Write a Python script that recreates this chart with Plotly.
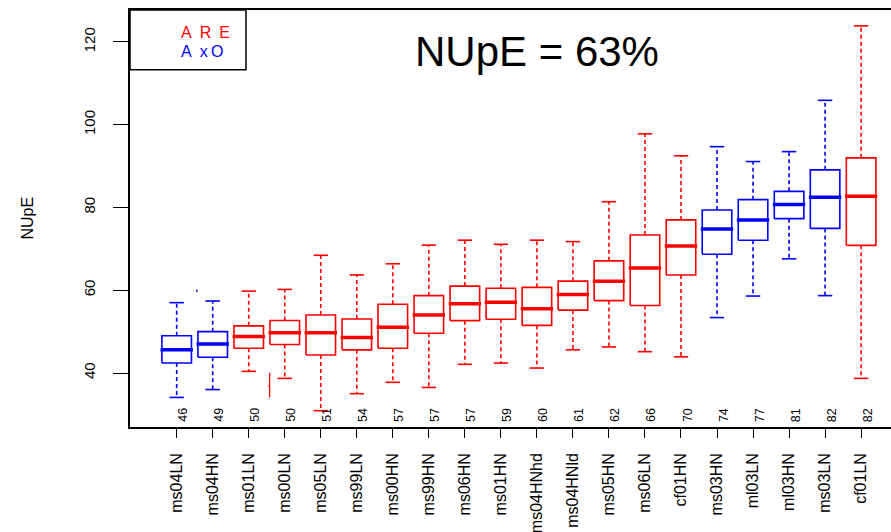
import plotly.graph_objects as go

categories = ["ms04LN", "ms04HN", "ms01LN", "ms00LN", "ms05LN", "ms99LN", "ms00HN",
              "ms99HN", "ms06HN", "ms01HN", "ms04HNhd", "ms04HNld", "ms05HN", "ms06LN",
              "cf01HN", "ms03HN", "ml03LN", "ml03HN", "ms03LN", "cf01LN"]
lower_whisker = [34.1, 36.0, 40.4, 38.7, 30.9, 35.0, 37.75, 36.5, 42.1, 42.4, 41.2, 45.6,
                 46.3, 45.15, 43.9, 53.4, 58.6, 67.6, 58.7, 38.7]
q1 = [42.4, 43.8, 46.0, 46.9, 44.35, 45.6, 46.0, 49.6, 52.65, 53.0, 51.5, 55.2,
      57.5, 56.3, 63.7, 68.7, 72.1, 77.3, 74.95, 70.85]
median = [45.6, 47.0, 48.8, 49.7, 49.7, 48.6, 51.05, 54.0, 56.75, 57.1, 55.5, 59.0,
          62.2, 65.4, 70.7, 74.8, 77.0, 80.7, 82.45, 82.7]
q3 = [49.0, 50.0, 51.4, 52.7, 54.0, 53.05, 56.6, 58.7, 61.0, 60.5, 60.7, 62.2,
      67.1, 73.35, 77.0, 79.4, 81.9, 83.9, 89.1, 92.0]
upper_whisker = [57.0, 57.4, 59.8, 60.2, 68.45, 63.7, 66.4, 70.9, 72.1, 71.1, 72.1, 71.75,
                 81.4, 97.8, 92.5, 94.7, 91.1, 93.5, 105.9, 123.9]
mean_labels = ["46", "49", "50", "50", "51", "54", "57", "57", "57", "59", "60", "61",
               "62", "66", "70", "74", "77", "81", "82", "82"]
group = ["AxO", "AxO", "ARE", "ARE", "ARE", "ARE", "ARE", "ARE", "ARE", "ARE", "ARE", "ARE",
         "ARE", "ARE", "ARE", "AxO", "AxO", "AxO", "AxO", "ARE"]

# small stray marks visible in the original figure
stray_x = [[0.56, 0.56], [2.58, 2.58], [2.54, 2.58]]
stray_y = [[59.6, 60.2], [40.07, 34.1], [36.85, 36.85]]
stray_group = ["AxO", "ARE", "ARE"]

y_ticks = [40, 60, 80, 100, 120]
title_text = "NUpE = 63%"
y_label = "NUpE"
legend_lines = ["A\u2002R\u2002E", "A\u2002x\u2009O"]

colors = {"ARE": "#FF0000", "AxO": "#0000FF"}
FONT = "Liberation Sans, Arial, Helvetica, sans-serif"
BOX_HW = 0.41
CAP_HW = 0.2
MED_HW = 0.45

fig = go.Figure()

for g, col in colors.items():
    bx, by, mx, my, wx, wy, cx, cy = [], [], [], [], [], [], [], []
    for i, grp in enumerate(group):
        if grp != g:
            continue
        bx += [i - BOX_HW, i + BOX_HW, i + BOX_HW, i - BOX_HW, i - BOX_HW, None]
        by += [q1[i], q1[i], q3[i], q3[i], q1[i], None]
        mx += [i - MED_HW, i + MED_HW, None]
        my += [median[i], median[i], None]
        wx += [i, i, None, i, i, None]
        wy += [q3[i], upper_whisker[i], None, q1[i], lower_whisker[i], None]
        cx += [i - CAP_HW, i + CAP_HW, None, i - CAP_HW, i + CAP_HW, None]
        cy += [upper_whisker[i], upper_whisker[i], None, lower_whisker[i], lower_whisker[i], None]
    fig.add_trace(go.Scatter(x=wx, y=wy, mode="lines", line=dict(color=col, width=1.6, dash="4px,3px"),
                             hoverinfo="skip", showlegend=False))
    fig.add_trace(go.Scatter(x=cx, y=cy, mode="lines", line=dict(color=col, width=1.6),
                             hoverinfo="skip", showlegend=False))
    fig.add_trace(go.Scatter(x=bx, y=by, mode="lines", line=dict(color=col, width=1.6),
                             hoverinfo="skip", showlegend=False))
    fig.add_trace(go.Scatter(x=mx, y=my, mode="lines", line=dict(color=col, width=3.5),
                             hoverinfo="skip", showlegend=False))
    sx, sy = [], []
    for k, sg in enumerate(stray_group):
        if sg == g:
            sx += stray_x[k] + [None]
            sy += stray_y[k] + [None]
    if sx:
        fig.add_trace(go.Scatter(x=sx, y=sy, mode="lines", line=dict(color=col, width=1.3),
                                 hoverinfo="skip", showlegend=False))

# mean labels
for i, lab in enumerate(mean_labels):
    fig.add_annotation(x=i + 0.175, y=29.9, xref="x", yref="y", text=lab, textangle=-90,
                       showarrow=False, font=dict(family=FONT, size=12.5, color="black"))

# title
fig.add_annotation(x=(537 - 130) / 761, y=(427 - 51) / 417, xref="paper", yref="paper",
                   text=title_text, showarrow=False, xanchor="center", yanchor="middle",
                   font=dict(family=FONT, size=42, color="black"))

# y label
fig.add_annotation(x=(27 - 130) / 761, y=0.5, xref="paper", yref="paper", text=y_label,
                   textangle=-90, showarrow=False, xanchor="center", yanchor="middle",
                   font=dict(family=FONT, size=16, color="black"))

# legend box
fig.add_shape(type="rect", xref="paper", yref="paper", x0=0, x1=(246 - 130) / 761,
              y0=(427 - 69.7) / 417, y1=1, line=dict(color="black", width=1.5),
              fillcolor="rgba(0,0,0,0)")
for txt, g, py in zip(legend_lines, ["ARE", "AxO"], [32.3, 51.7]):
    fig.add_annotation(x=(179.3 - 130) / 761, y=(427 - py) / 417, xref="paper", yref="paper",
                       text=txt, showarrow=False, xanchor="left", yanchor="middle",
                       font=dict(family=FONT, size=16, color=colors[g]))

fig.update_layout(
    width=891, height=532,
    margin=dict(l=130, r=0, t=10, b=105),
    plot_bgcolor="white", paper_bgcolor="white",
    font=dict(family=FONT, color="black"),
    showlegend=False,
    xaxis=dict(range=[-1.296, 19.83], tickmode="array", tickvals=list(range(len(categories))),
               ticktext=categories, tickangle=-90, ticks="outside", ticklen=9, tickwidth=1.3,
               tickcolor="black", showline=True, linecolor="black", linewidth=1.5, mirror=True,
               showgrid=False, zeroline=False, ticklabelstandoff=9,
               tickfont=dict(family=FONT, size=16, color="black")),
    yaxis=dict(range=[26.95, 127.73], tickmode="array", tickvals=y_ticks,
               ticktext=[str(v) for v in y_ticks], tickangle=-90, ticks="outside", ticklen=15,
               tickwidth=1.3, tickcolor="black", showline=True, linecolor="black", linewidth=1.5,
               showgrid=False, zeroline=False, ticklabelstandoff=12,
               tickfont=dict(family=FONT, size=15, color="black")),
)

fig.write_html("out.html")
